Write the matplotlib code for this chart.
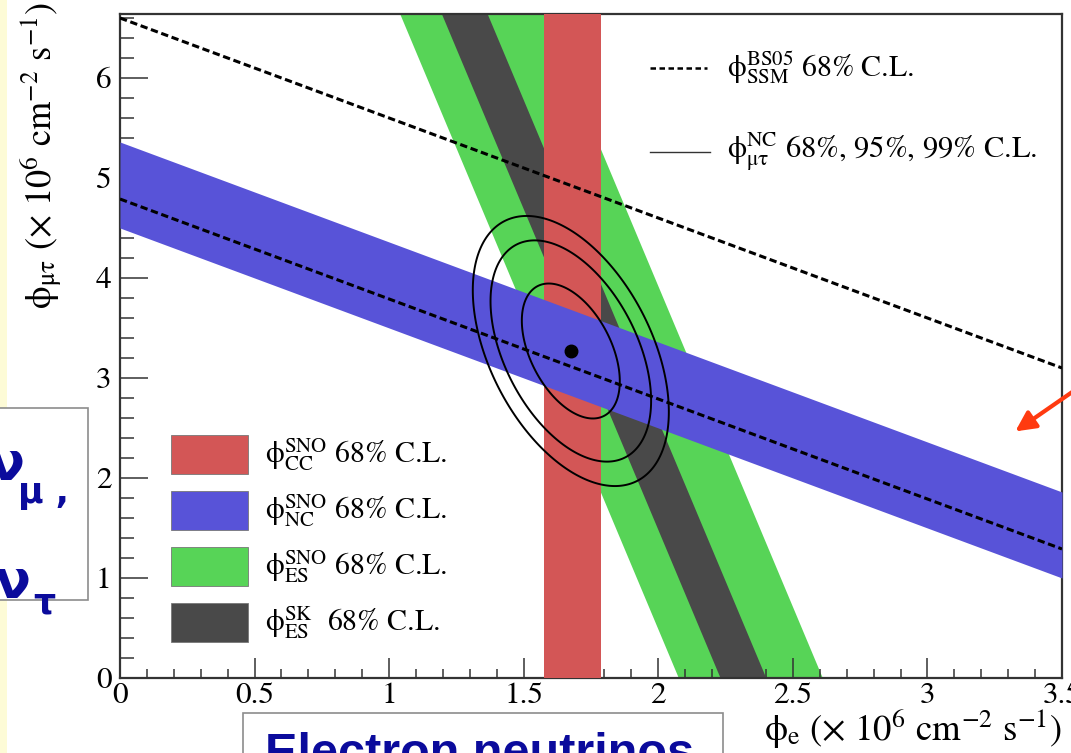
import numpy as np
import matplotlib
matplotlib.use("Agg")
import matplotlib.pyplot as plt
from matplotlib.patches import Rectangle, FancyArrowPatch
from matplotlib.lines import Line2D
from matplotlib.ticker import MultipleLocator

plt.rcParams["font.family"] = ["STIXGeneral", "DejaVu Serif"]
plt.rcParams["mathtext.fontset"] = "stix"

# ---- measured flux constraints (units of 1e6 cm^-2 s^-1) ----
cc_band = [1.575, 1.787]          # SNO CC: phi_e range
nc_band = [4.50, 5.36]            # SNO NC: phi_e + phi_mutau
es_sno_band = [2.075, 2.61]       # SNO ES: phi_e + k*phi_mutau
es_sk_band = [2.23, 2.40]         # SK ES:  phi_e + k*phi_mutau
ssm_band = [4.79, 6.60]           # BS05 SSM: phi_e + phi_mutau
es_ratio = 0.1559                 # nu_mu,tau / nu_e ES cross-section ratio

best_fit = [1.675, 3.27]          # (phi_e, phi_mutau)
sigma_e = 0.120
sigma_mt = 0.445
rho = -0.45
cl_levels = [2.30, 6.18, 9.21]    # 68%, 95%, 99% C.L. for 2 d.o.f.

x_max, y_max = 3.5, 6.64
x_ticks = [0, 0.5, 1, 1.5, 2, 2.5, 3, 3.5]
x_tick_labels = ["0", "0.5", "1", "1.5", "2", "2.5", "3", "3.5"]
y_ticks = [0, 1, 2, 3, 4, 5, 6]

c_cc = "#d35656"
c_nc = "#5853d8"
c_es = "#57d457"
c_sk = "#494949"

PHI = r"\mathrm{\phi}"

W, H = 1071, 753
fig = plt.figure(figsize=(W / 100, H / 100), dpi=100)
fig.patch.set_facecolor("white")

ax = fig.add_axes([120 / W, 75 / H, 942 / W, 664 / H])
ax.set_xlim(0, x_max)
ax.set_ylim(0, y_max)

xs = np.linspace(0, x_max, 400)
ys = np.linspace(0, y_max, 400)

# ES bands (SNO then SK)
ax.fill_betweenx(ys, es_sno_band[0] - es_ratio * ys, es_sno_band[1] - es_ratio * ys,
                 color=c_es, lw=0, zorder=1)
ax.fill_betweenx(ys, es_sk_band[0] - es_ratio * ys, es_sk_band[1] - es_ratio * ys,
                 color=c_sk, lw=0, zorder=2)
# CC band
ax.axvspan(cc_band[0], cc_band[1], color=c_cc, lw=0, zorder=3)
# NC band
ax.fill_between(xs, nc_band[0] - xs, nc_band[1] - xs, color=c_nc, lw=0, zorder=4)

# SSM lines
for s in ssm_band:
    ax.plot(xs, s - xs, color="black", lw=2.2, ls=(0, (2.4, 1.2)), zorder=5)

# NC-derived phi_mutau contours
gx, gy = np.meshgrid(np.linspace(0.8, 2.6, 400), np.linspace(0.5, 6.0, 400))
dx = (gx - best_fit[0]) / sigma_e
dy = (gy - best_fit[1]) / sigma_mt
chi2 = (dx ** 2 - 2 * rho * dx * dy + dy ** 2) / (1 - rho ** 2)
ax.contour(gx, gy, chi2, levels=cl_levels, colors="black", linewidths=1.4, zorder=6)
ax.plot([best_fit[0]], [best_fit[1]], "o", color="black", ms=9, zorder=7)

# axes styling
for sp in ax.spines.values():
    sp.set_color("#333333")
    sp.set_linewidth(1.6)
ax.set_xticks(x_ticks)
ax.set_xticklabels(x_tick_labels)
ax.set_yticks(y_ticks)
ax.xaxis.set_minor_locator(MultipleLocator(0.1))
ax.yaxis.set_minor_locator(MultipleLocator(0.2))
ax.tick_params(axis="both", which="both", direction="in", color="#333333",
               width=1.1, labelsize=22.5)
ax.tick_params(axis="x", which="major", length=14.5, pad=3)
ax.tick_params(axis="x", which="minor", length=6.5)
ax.tick_params(axis="y", which="major", length=20, pad=6)
ax.tick_params(axis="y", which="minor", length=10)

ax.set_xlabel(r"$%s_{\rm e}$ ($\times$ 10$^{6}$ cm$^{-2}$ s$^{-1}$)" % PHI, fontsize=26.5)
ax.xaxis.set_label_coords(1.0, -0.043)
ax.xaxis.label.set_ha("right")
ax.xaxis.label.set_va("top")
ax.set_ylabel(r"$%s_{\mathrm{\mu\tau}}$ ($\times$ 10$^{6}$ cm$^{-2}$ s$^{-1}$)" % PHI,
              fontsize=26)
ax.yaxis.set_label_coords(-0.058, 1.018)
ax.yaxis.label.set_ha("right")

# legend: bands (lower left)
band_entries = [
    (c_cc, r"$%s^{\rm SNO}_{\rm CC}$ 68%% C.L." % PHI),
    (c_nc, r"$%s^{\rm SNO}_{\rm NC}$ 68%% C.L." % PHI),
    (c_es, r"$%s^{\rm SNO}_{\rm ES}$ 68%% C.L." % PHI),
    (c_sk, r"$%s^{\rm SK}_{\rm ES}$  68%% C.L." % PHI),
]
row_y = [455, 511, 567, 623]
for (col, lab), yp in zip(band_entries, row_y):
    fig.add_artist(Rectangle((171 / W, 1 - (yp + 19) / H), 77 / W, 39 / H,
                             transform=fig.transFigure, facecolor=col,
                             edgecolor="#777777", lw=0.6, zorder=8))
    fig.text(265 / W, 1 - yp / H, lab, fontsize=21.5, va="center", ha="left", zorder=8)

# legend: lines (upper right)
fig.add_artist(Line2D([650 / W, 707 / W], [1 - 68 / H, 1 - 68 / H], color="black",
                      lw=1.8, ls=(0, (2.2, 1.4)), transform=fig.transFigure))
fig.text(727 / W, 1 - 68 / H, r"$%s^{\rm BS05}_{\rm SSM}$ 68%% C.L." % PHI,
         fontsize=21.5, va="center", ha="left")
fig.add_artist(Line2D([650 / W, 710 / W], [1 - 152 / H, 1 - 152 / H], color="#333333",
                      lw=1.0, transform=fig.transFigure))
fig.text(727 / W, 1 - 152 / H,
         r"$%s^{\rm NC}_{\mathrm{\mu\tau}}$ 68%%, 95%%, 99%% C.L." % PHI,
         fontsize=22, va="center", ha="left")

# slide surroundings
fig.add_artist(Rectangle((0, 0), 7 / W, 1, transform=fig.transFigure,
                         facecolor="#fdfbd6", edgecolor="none", zorder=0))
fig.add_artist(Rectangle((-0.05, 1 - 600 / H), 0.05 + 88 / W, 192 / H,
                         transform=fig.transFigure, facecolor="white",
                         edgecolor="#8c8c8c", lw=1.2, zorder=9))
blue = "#0b0b9c"
fig.text(-12 / W, 1 - 480 / H, "ν", fontsize=38, fontweight="bold", color=blue,
         family="DejaVu Sans", ha="left", va="baseline", zorder=10)
fig.text(18 / W, 1 - 503 / H, "μ ,", fontsize=25, fontweight="bold", color=blue,
         family="DejaVu Sans", ha="left", va="baseline", zorder=10)
fig.text(-6 / W, 1 - 598 / H, "ν", fontsize=38, fontweight="bold", color=blue,
         family="DejaVu Sans", ha="left", va="baseline", zorder=10)
fig.text(33 / W, 1 - 614 / H, "τ", fontsize=25, fontweight="bold", color=blue,
         family="DejaVu Sans", ha="left", va="baseline", zorder=10)

fig.add_artist(Rectangle((243 / W, -0.05), 480 / W, 0.05 + 40 / H,
                         transform=fig.transFigure, facecolor="white",
                         edgecolor="#8c8c8c", lw=1.2, zorder=9))
fig.text(265 / W, -14 / H, "Electron neutrinos", fontsize=35, fontweight="bold",
         color=blue, family="Liberation Sans", ha="left", va="baseline", zorder=10)

fig.add_artist(FancyArrowPatch(
    (1078 / W, 1 - 388 / H), (1013 / W, 1 - 433 / H), transform=fig.transFigure,
    arrowstyle="-|>,head_length=12,head_width=6", color="#ff3a10", lw=3, zorder=10))

fig.savefig("out.png", dpi=100)
